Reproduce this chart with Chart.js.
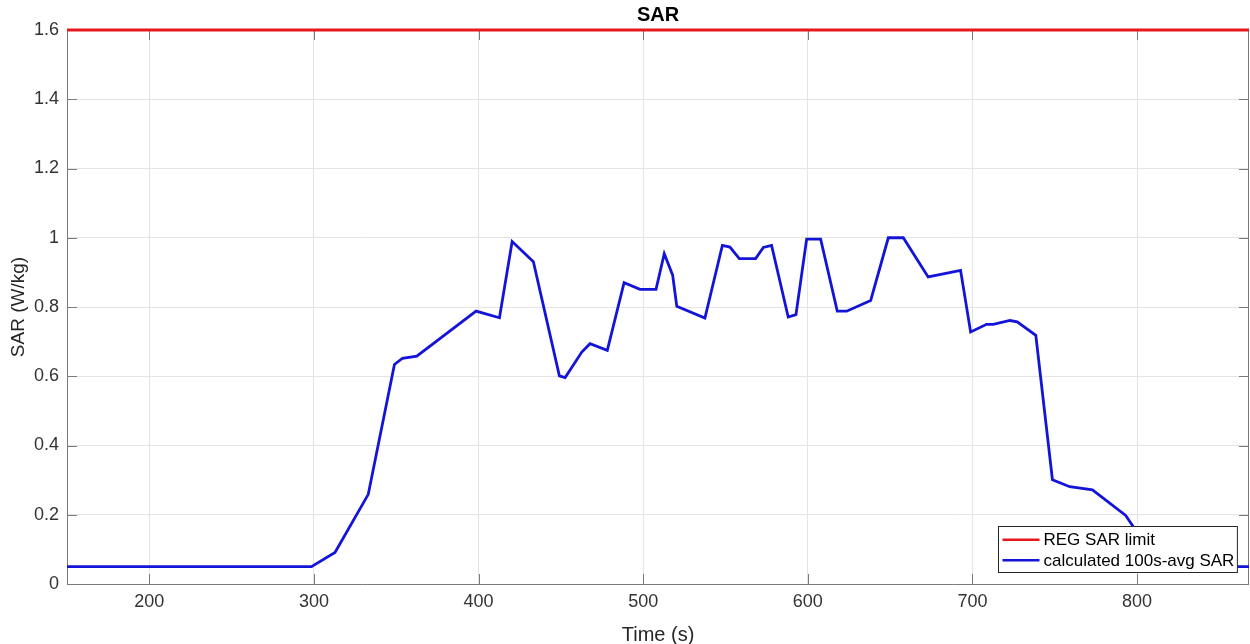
<!DOCTYPE html>
<html>
<head>
<meta charset="utf-8">
<script src="https://cdn.jsdelivr.net/npm/chart.js@4"></script>
<style>
  html, body { margin: 0; padding: 0; background: #fff; }
  #wrap { width: 1250px; height: 644px; }
</style>
</head>
<body>
<div id="wrap"><canvas id="sarChart"></canvas></div>
<script>
// SAR over time
const times = [150, 298.5, 312.8, 333, 348.9, 353.8, 362.5, 398.5, 412.7, 420.4, 433.3, 449.1, 452.6,
  462.7, 467.7, 478.2, 488.4, 498.1, 507.8, 512.8, 517.9, 520.4, 537.5, 548.1, 552.7, 558.4, 568.3,
  573, 578, 588.1, 592.8, 599.3, 607.8, 617.9, 623.6, 638.2, 648.9, 658, 673.1, 692.8, 698.9, 708.6,
  712.6, 722.8, 727.2, 738.5, 748.6, 759.1, 772.9, 793.1, 797.2, 812, 868];
const sarAvg = [0.05, 0.05, 0.091, 0.259, 0.634, 0.652, 0.658, 0.788, 0.769, 0.989, 0.931, 0.601, 0.596,
  0.670, 0.694, 0.675, 0.870, 0.851, 0.851, 0.954, 0.892, 0.802, 0.768, 0.978, 0.973, 0.940, 0.940,
  0.972, 0.978, 0.771, 0.778, 0.996, 0.996, 0.788, 0.788, 0.819, 1.0, 1.0, 0.887, 0.906, 0.728, 0.750,
  0.750, 0.761, 0.757, 0.718, 0.301, 0.281, 0.272, 0.198, 0.169, 0.05, 0.05];
const limitTimes = [150, 868];
const limitSar = [1.6, 1.6];
const xTicks = [200, 300, 400, 500, 600, 700, 800];
const yTicks = [0, 0.2, 0.4, 0.6, 0.8, 1, 1.2, 1.4, 1.6];
const chartTitle = 'SAR';

const toPoints = (xs, ys) => xs.map((x, i) => ({ x: x, y: ys[i] }));

const FONT = "'Liberation Sans', Arial, sans-serif";
const AXIS = '#7a7a7a';

// box outline and inward ticks go under the lines, title + legend on top
const matlabBox = {
  id: 'matlabBox',
  beforeDatasetsDraw(chart) {
    const { ctx, chartArea: a, scales } = chart;
    ctx.save();
    ctx.strokeStyle = AXIS;
    ctx.lineWidth = 1;
    ctx.beginPath();
    ctx.moveTo(a.left + 0.5, a.top);
    ctx.lineTo(a.left + 0.5, a.bottom + 0.5);
    ctx.lineTo(a.right - 0.5, a.bottom + 0.5);
    ctx.lineTo(a.right - 0.5, a.top);
    const tl = 10;
    xTicks.forEach(v => {
      const px = Math.round(scales.x.getPixelForValue(v)) + 0.5;
      ctx.moveTo(px, a.bottom); ctx.lineTo(px, a.bottom - tl);
      ctx.moveTo(px, a.top); ctx.lineTo(px, a.top + tl);
    });
    yTicks.forEach(v => {
      const py = Math.round(scales.y.getPixelForValue(v)) + 0.5;
      ctx.moveTo(a.left, py); ctx.lineTo(a.left + tl, py);
      ctx.moveTo(a.right, py); ctx.lineTo(a.right - tl, py);
    });
    ctx.stroke();
    ctx.restore();
  },
  afterDraw(chart) {
    const { ctx, chartArea: a } = chart;
    ctx.save();
    // title centred over the axes, like matlab
    ctx.font = 'bold 20px ' + FONT;
    ctx.fillStyle = '#000';
    ctx.textAlign = 'center';
    ctx.textBaseline = 'middle';
    ctx.fillText(chartTitle, (a.left + a.right) / 2, 15);

    // legend
    ctx.textAlign = 'left';
    ctx.font = '17px ' + FONT;
    const sets = chart.data.datasets;
    const textW = Math.max(...sets.map(d => ctx.measureText(d.label).width));
    const lineLen = 37, gap = 4, padL = 4, padR = 3, rowH = 20.5;
    const w = padL + lineLen + gap + textW + padR;
    const h = rowH * sets.length + 5;
    const x0 = Math.round(a.right - 12 - w) + 0.5;
    const y0 = Math.round(a.bottom - 12 - h) + 0.5;
    ctx.fillStyle = '#fff';
    ctx.fillRect(x0, y0, w, h);
    ctx.strokeStyle = '#262626';
    ctx.lineWidth = 1;
    ctx.strokeRect(x0, y0, w, h);
    sets.forEach((d, i) => {
      const cy = y0 + 3 + rowH * (i + 0.5);
      ctx.strokeStyle = d.borderColor;
      ctx.lineWidth = 2.5;
      ctx.beginPath();
      ctx.moveTo(x0 + padL, cy); ctx.lineTo(x0 + padL + lineLen, cy);
      ctx.stroke();
      ctx.fillStyle = '#000';
      ctx.fillText(d.label, x0 + padL + lineLen + gap, cy + 1);
    });
    ctx.restore();
  }
};

new Chart(document.getElementById('sarChart'), {
  type: 'line',
  data: {
    datasets: [
      {
        label: 'REG SAR limit',
        data: toPoints(limitTimes, limitSar),
        borderColor: '#e8191e',
        borderWidth: 3,
        pointRadius: 0,
        tension: 0,
        clip: false
      },
      {
        label: 'calculated 100s-avg SAR',
        data: toPoints(times, sarAvg),
        borderColor: '#1414d8',
        borderWidth: 2.8,
        pointRadius: 0,
        tension: 0
      }
    ]
  },
  options: {
    responsive: true,
    maintainAspectRatio: false,
    animation: false,
    layout: { padding: { left: 0, right: 1, top: 30, bottom: 0 } },
    plugins: {
      legend: { display: false },
      tooltip: { enabled: false },
      title: { display: false }
    },
    scales: {
      x: {
        type: 'linear',
        min: 150,
        max: 868,
        afterFit(scale) { scale.height = 60; },
        afterBuildTicks(scale) { scale.ticks = xTicks.map(v => ({ value: v })); },
        ticks: { color: '#333', padding: 7, font: { family: FONT, size: 18 }, callback: v => v },
        grid: { color: '#e4e4e4', drawTicks: false },
        border: { display: false },
        title: {
          display: true,
          text: 'Time (s)',
          color: '#262626',
          font: { family: FONT, size: 20, lineHeight: 1 },
          padding: { top: 0, bottom: -1 }
        }
      },
      y: {
        type: 'linear',
        min: 0,
        max: 1.6,
        afterFit(scale) { scale.width = 67; },
        afterBuildTicks(scale) { scale.ticks = yTicks.map(v => ({ value: v })); },
        ticks: { color: '#333', padding: 8, font: { family: FONT, size: 18 }, callback: v => v },
        grid: { color: '#e4e4e4', drawTicks: false },
        border: { display: false },
        title: {
          display: true,
          text: 'SAR (W/kg)',
          color: '#262626',
          font: { family: FONT, size: 19, lineHeight: 1 },
          padding: { top: 9, bottom: 0 }
        }
      }
    }
  },
  plugins: [matlabBox]
});
</script>
</body>
</html>
